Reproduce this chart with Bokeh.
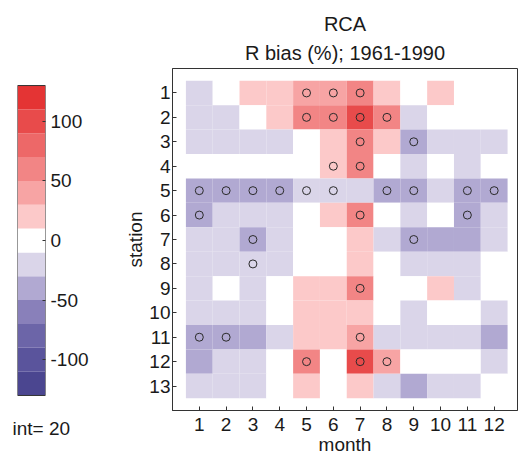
from bokeh.plotting import figure
from bokeh.models import Range1d, FixedTicker, Title, ColumnDataSource
from bokeh.layouts import row
from bokeh.transform import linear_cmap
from bokeh.embed import file_html
from bokeh.resources import INLINE

# ---------------- data ----------------
months = [1, 2, 3, 4, 5, 6, 7, 8, 9, 10, 11, 12]
stations = [1, 2, 3, 4, 5, 6, 7, 8, 9, 10, 11, 12, 13]

# R bias (%) per station (rows) and month (columns)
bias = [
    [-20, 0, 20, 20, 40, 40, 60, 20, 0, 20, 0, 0],          # 1
    [-20, -20, 0, 20, 60, 60, 105, 60, -20, 0, 0, 0],       # 2
    [-20, -20, -20, -20, 0, 20, 60, 20, -40, -20, -20, -20],  # 3
    [0, 0, 0, 0, 0, 20, 55, 0, -20, 0, -20, 0],             # 4
    [-40, -40, -40, -40, -20, -20, -20, -40, -40, -20, -40, -40],  # 5
    [-40, -20, -20, -20, 0, 20, 60, 0, -20, 0, -40, -20],   # 6
    [-20, -20, -40, -20, 0, 0, 20, -20, -40, -40, -40, -20],  # 7
    [-20, -20, -20, -20, 0, 0, 20, 0, -20, -20, -20, 0],    # 8
    [-20, 0, -20, 0, 20, 20, 60, 0, 0, 20, -20, 0],         # 9
    [-20, -20, -20, 0, 20, 20, 20, 0, -20, 0, 0, -20],      # 10
    [-40, -40, -40, -20, 20, 20, 40, -20, -20, -20, -20, -40],  # 11
    [-40, -20, -20, 0, 60, 0, 95, 40, 0, 0, 0, -20],        # 12
    [-20, -20, -20, 0, 20, 0, 20, -20, -40, -20, -20, 0],   # 13
]

# significant cells (open circles)
sig_station = [1, 1, 1, 2, 2, 2, 2, 3, 3, 4, 4,
               5, 5, 5, 5, 5, 5, 5, 5, 5, 5,
               6, 6, 6, 7, 7, 8, 9, 11, 11, 11, 12, 12, 12]
sig_month = [5, 6, 7, 5, 6, 7, 8, 7, 9, 6, 7,
             1, 2, 3, 4, 5, 6, 8, 9, 11, 12,
             1, 7, 11, 3, 9, 3, 7, 1, 2, 7, 5, 7, 8]

# contour levels (int = 20) and colours
level_low = [-130, -110, -90, -70, -50, -30, -10, 10, 30, 50, 70, 90, 110]
level_high = [-110, -90, -70, -50, -30, -10, 10, 30, 50, 70, 90, 110, 130]
palette = ["#4b4690", "#5a549c", "#6c65a8", "#8980ba", "#b1a9d2", "#dad5e9",
           "#ffffff", "#fcc9c9", "#f7a4a4", "#f28585", "#ed6868", "#e84b4b", "#e43434"]
cbar_ticks = [-100, -50, 0, 50, 100]
cbar_tick_labels = ["-100", "-50", "0", "50", "100"]

title1 = "RCA"
title2 = "R bias (%); 1961-1990"
int_text = "int= 20"

FONT = "Liberation Sans"
FS = "19px"
TXT = "#1a1a1a"
LINE = "#333333"

# ---------------- heatmap ----------------
xs, ys, vals = [], [], []
for si, st in enumerate(stations):
    for mi, mo in enumerate(months):
        xs.append(mo)
        ys.append(st)
        vals.append(bias[si][mi])
src = ColumnDataSource(dict(x=xs, y=ys, v=vals))

p = figure(width=398, height=463, x_range=Range1d(0, 12.87), y_range=Range1d(14, 0),
           output_backend="svg", toolbar_location=None, title=title1,
           min_border_left=52, min_border_right=1, min_border_top=68, min_border_bottom=53)
p.grid.visible = False
p.outline_line_color = LINE
p.title.align = "center"
p.title.text_font = FONT
p.title.text_font_size = "20px"
p.title.text_font_style = "normal"
p.title.text_color = TXT
p.title.standoff = 0

p.rect(x="x", y="y", width=1, height=1, source=src, line_color=None,
       fill_color=linear_cmap("v", palette, -130, 130))
p.scatter(x=sig_month, y=sig_station, marker="circle", size=8, fill_color=None,
          line_color="#2a2a2a", line_width=1)

for ax in (p.xaxis[0], p.yaxis[0]):
    ax.major_tick_in = 4
    ax.major_tick_out = 0
    ax.minor_tick_line_color = None
    ax.axis_line_color = LINE
    ax.major_tick_line_color = LINE
    ax.major_label_text_font = FONT
    ax.major_label_text_font_size = FS
    ax.major_label_text_color = TXT
    ax.axis_label_text_font = FONT
    ax.axis_label_text_font_size = FS
    ax.axis_label_text_font_style = "normal"
    ax.axis_label_text_color = TXT
p.xaxis.ticker = FixedTicker(ticks=months)
p.yaxis.ticker = FixedTicker(ticks=stations)
p.xaxis.axis_label = "month"
p.xaxis.major_label_standoff = 7
p.xaxis.axis_label_standoff = 0
p.yaxis.axis_label = "station"
p.yaxis.major_label_standoff = 2
p.yaxis.axis_label_standoff = 0
p.add_layout(Title(text=title2, align="center", text_font=FONT, text_font_size="20px",
                   text_font_style="normal", text_color=TXT, standoff=10), "above")

# ---------------- colour bar ----------------
# the row shares top/bottom borders, so the bar sits inside a frame as tall as the heatmap's
cb = figure(width=120, height=463, x_range=Range1d(0, 1), y_range=Range1d(-142.6, 144.3),
            output_backend="svg", toolbar_location=None, y_axis_location="right",
            min_border_left=17, min_border_right=75, min_border_top=68, min_border_bottom=53)
cb.grid.visible = False
cb.xaxis.visible = False
cb.outline_line_color = None
cb.quad(left=0, right=1, bottom=level_low, top=level_high, fill_color=palette, line_color=None)
cb.quad(left=0, right=1, bottom=level_low[0], top=level_high[-1], fill_color=None,
        line_color=LINE, line_width=1)
ya = cb.yaxis[0]
ya.ticker = FixedTicker(ticks=cbar_ticks)
ya.major_label_overrides = dict(zip(cbar_ticks, cbar_tick_labels))
ya.major_tick_in = 3
ya.major_tick_out = 0
ya.minor_tick_line_color = None
ya.axis_line_color = None
ya.major_tick_line_color = LINE
ya.major_label_text_font = FONT
ya.major_label_text_font_size = FS
ya.major_label_text_color = TXT
ya.major_label_standoff = 5
cb.add_layout(Title(text=int_text, align="left", text_font=FONT, text_font_size=FS,
                    text_font_style="normal", text_color=TXT, standoff=10, offset=-5),
              "below")

layout = row(cb, p)
open("out.html", "w").write(file_html(layout, INLINE))
